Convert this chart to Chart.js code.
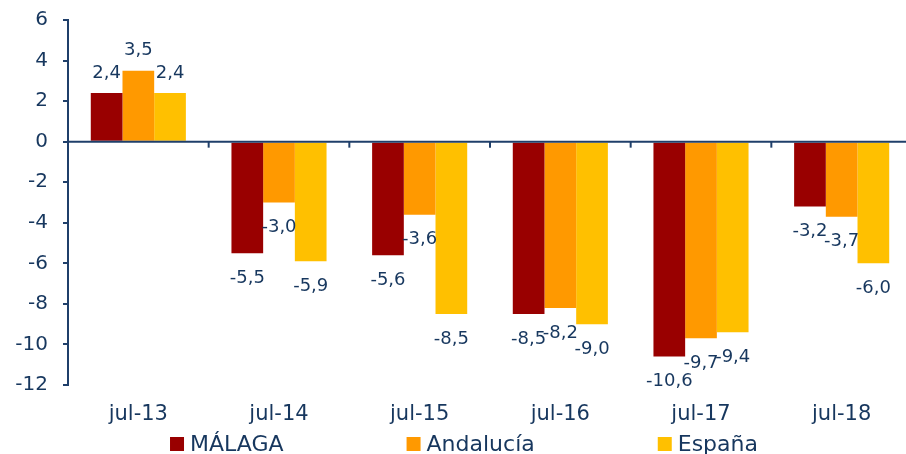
<!DOCTYPE html>
<html>
<head>
<meta charset="utf-8">
<script src="https://cdn.jsdelivr.net/npm/chart.js@4/dist/chart.umd.min.js"></script>
<style>
  html, body { margin: 0; padding: 0; background: #fff; overflow: hidden; }
  #wrap { width: 912px; height: 454px; position: relative; }
</style>
</head>
<body>
<div id="wrap"><canvas id="c"></canvas></div>
<script>
const categories = ['jul-13', 'jul-14', 'jul-15', 'jul-16', 'jul-17', 'jul-18'];
const malaga    = [2.4, -5.5, -5.6, -8.5, -10.6, -3.2];
const andalucia = [3.5, -3.0, -3.6, -8.2, -9.7, -3.7];
const espana    = [2.4, -5.9, -8.5, -9.0, -9.4, -6.0];
const seriesNames = ['MÁLAGA', 'Andalucía', 'España'];
const yTicks = [6, 4, 2, 0, -2, -4, -6, -8, -10, -12];

const NAVY = '#17375E';
const LINE = '#1F3F6A';
const FONT = '"DejaVu Sans", sans-serif';
const colors = ['#990000', '#FF9900', '#FFC000'];

const fmt = v => v.toFixed(1).replace('.', ',');

const overlay = {
  id: 'overlay',
  afterDatasetsDraw(chart) {
    const ctx = chart.ctx;
    const x = chart.scales.x, y = chart.scales.y;
    const area = chart.chartArea;
    const y0 = y.getPixelForValue(0);
    ctx.save();
    ctx.strokeStyle = LINE;
    ctx.lineWidth = 2;
    ctx.beginPath();
    ctx.moveTo(area.left, y0);
    ctx.lineTo(area.right, y0);
    ctx.stroke();
    const w = (x.getPixelForValue(1) - x.getPixelForValue(0));
    for (let i = 0; i <= categories.length; i++) {
      const px = x.getPixelForValue(0) - w / 2 + i * w;
      ctx.beginPath();
      ctx.moveTo(px, y0);
      ctx.lineTo(px, y0 + 6);
      ctx.stroke();
    }
    ctx.fillStyle = NAVY;
    ctx.font = '18px ' + FONT;
    ctx.textAlign = 'center';
    ctx.textBaseline = 'middle';
    chart.data.datasets.forEach((ds, di) => {
      const meta = chart.getDatasetMeta(di);
      meta.data.forEach((bar, i) => {
        const v = ds.data[i];
        const yy = v >= 0 ? bar.y - 20 : bar.y + 25;
        ctx.fillText(fmt(v), bar.x, yy);
      });
    });
    ctx.restore();
  },
  afterDraw(chart) {
    const ctx = chart.ctx;
    ctx.save();
    ctx.font = '22px ' + FONT;
    ctx.textBaseline = 'middle';
    ctx.textAlign = 'left';
    const box = 14, gapBox = 6, gapItem = 123, center = 464, cy = 444;
    const widths = seriesNames.map(t => box + gapBox + ctx.measureText(t).width);
    const total = widths.reduce((a, b) => a + b, 0) + gapItem * (widths.length - 1);
    let cx = center - total / 2;
    seriesNames.forEach((t, i) => {
      ctx.fillStyle = colors[i];
      ctx.fillRect(cx, cy - box / 2, box, box);
      ctx.fillStyle = NAVY;
      ctx.fillText(t, cx + box + gapBox, cy + 1);
      cx += widths[i] + gapItem;
    });
    ctx.restore();
  }
};

new Chart(document.getElementById('c'), {
  type: 'bar',
  data: {
    labels: categories,
    datasets: [
      { label: seriesNames[0], data: malaga, backgroundColor: colors[0] },
      { label: seriesNames[1], data: andalucia, backgroundColor: colors[1] },
      { label: seriesNames[2], data: espana, backgroundColor: colors[2] }
    ]
  },
  options: {
    responsive: true,
    maintainAspectRatio: false,
    animation: false,
    datasets: { bar: { categoryPercentage: 0.676, barPercentage: 1.0, borderWidth: 0 } },
    layout: { padding: { top: 20, right: 0, bottom: 20, left: 0 } },
    plugins: { legend: { display: false }, tooltip: { enabled: false } },
    scales: {
      x: {
        grid: { display: false },
        border: { display: false },
        ticks: { color: NAVY, font: { family: FONT, size: 21 }, padding: 9, maxRotation: 0 },
        afterFit: s => { s.height = 49; }
      },
      y: {
        min: -12, max: 6,
        afterBuildTicks: s => { s.ticks = yTicks.map(v => ({ value: v })); },
        grid: { drawOnChartArea: false, drawTicks: true, tickLength: 5, tickColor: LINE, lineWidth: 2 },
        border: { display: true, color: LINE, width: 2 },
        ticks: { color: NAVY, font: { family: FONT, size: 20 }, padding: 15, callback: v => String(v) },
        afterFit: s => { s.width = 68; s.paddingTop = 0; s.paddingBottom = 0; }
      }
    }
  },
  plugins: [overlay]
});
</script>
</body>
</html>
